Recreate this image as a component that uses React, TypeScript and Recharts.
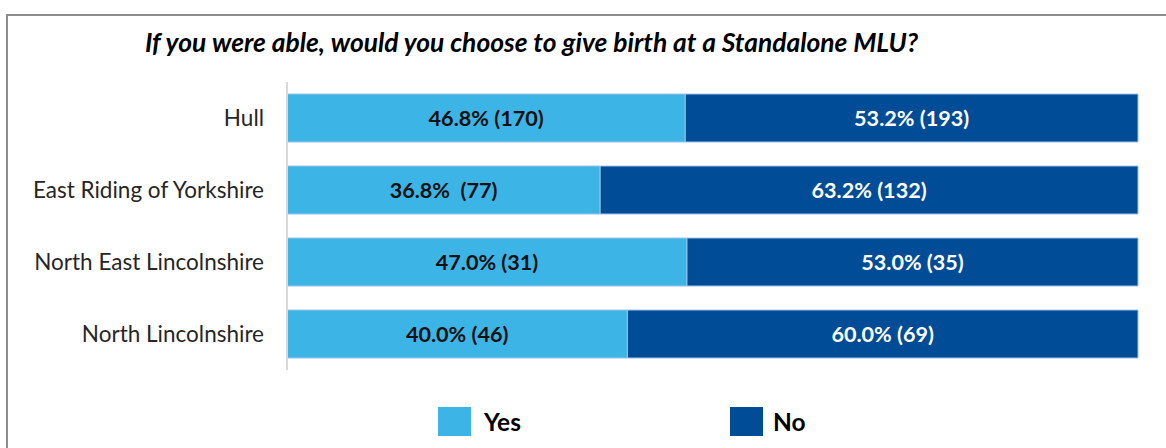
import React from 'react';
import { BarChart, Bar, XAxis, YAxis, LabelList, Legend } from 'recharts';

const categories = ['Hull', 'East Riding of Yorkshire', 'North East Lincolnshire', 'North Lincolnshire'];
const yesPct = [46.8, 36.8, 47.0, 40.0];
const noPct = [53.2, 63.2, 53.0, 60.0];
const yesLabels = ['46.8% (170)', '36.8%  (77)', '47.0% (31)', '40.0% (46)'];
const noLabels = ['53.2% (193)', '63.2% (132)', '53.0% (35)', '60.0% (69)'];
const seriesNames = ['Yes', 'No'];
const seriesColors = ['#3DB4E6', '#004C97'];
const titleText = 'If you were able, would you choose to give birth at a Standalone MLU?';

const data = categories.map((c, i) => ({
  name: c,
  yes: yesPct[i],
  no: noPct[i],
  yesLabel: yesLabels[i],
  noLabel: noLabels[i],
}));

const FONT = 'Lato, "Open Sans", sans-serif';

const makeLabel = (fill: string) => (props: any) => {
  const { x, y, width, height, value } = props;
  return (
    <text
      x={x + width / 2}
      y={y + height / 2}
      dy="0.36em"
      textAnchor="middle"
      fill={fill}
      fontFamily={FONT}
      fontWeight={700}
      fontSize={21.6}
      style={{ whiteSpace: 'pre' }}
    >
      {value}
    </text>
  );
};

const LegendContent = () => (
  <div style={{ position: 'relative', height: 40, fontFamily: FONT }}>
    {seriesNames.map((n, i) => (
      <div key={n} style={{ position: 'absolute', left: i === 0 ? 438 : 730, top: 0, display: 'flex', alignItems: 'center' }}>
        <div style={{ width: 33, height: 29, background: seriesColors[i] }} />
        <span style={{ marginLeft: i === 0 ? 13 : 10, fontSize: 24.5, fontWeight: 700, color: '#000' }}>{n}</span>
      </div>
    ))}
  </div>
);

export default function App() {
  return (
    <div style={{ position: 'absolute', left: 0, top: 0, width: 1166, height: 448, overflow: 'hidden', background: '#fff' }}>
      <div style={{ position: 'absolute', left: 6, top: 14, width: 1170, height: 2, background: '#8c8c8c', zIndex: 2 }} />
      <div style={{ position: 'absolute', left: 6, top: 14, width: 2, height: 440, background: '#8c8c8c', zIndex: 2 }} />
      <div style={{ position: 'absolute', left: 145, top: 26, fontFamily: FONT, fontSize: 26.4, fontWeight: 700, fontStyle: 'italic', color: '#000', whiteSpace: 'nowrap', zIndex: 2 }}>
        {titleText}
      </div>
      <BarChart
        width={1166}
        height={448}
        data={data}
        layout="vertical"
        margin={{ top: 82, right: 28, bottom: 78, left: 0 }}
        barSize={48}
      >
        <XAxis type="number" domain={[0, 100]} hide />
        <YAxis
          type="category"
          dataKey="name"
          width={287}
          axisLine={{ stroke: '#d9d9d9', strokeWidth: 2 }}
          tickLine={false}
          tickSize={0}
          tickMargin={23}
          tick={{ fill: '#262626', fontSize: 22.5, fontFamily: FONT }}
        />
        <Legend layout="horizontal" verticalAlign="middle" align="center" wrapperStyle={{ top: 407, left: 0, width: 1166 }} content={<LegendContent />} />
        <Bar dataKey="yes" stackId="a" name={seriesNames[0]} fill={seriesColors[0]} stroke="#9dc3e6" strokeWidth={1} isAnimationActive={false}>
          <LabelList dataKey="yesLabel" content={makeLabel('#111')} />
        </Bar>
        <Bar dataKey="no" stackId="a" name={seriesNames[1]} fill={seriesColors[1]} stroke="#9dc3e6" strokeWidth={1} isAnimationActive={false}>
          <LabelList dataKey="noLabel" content={makeLabel('#fff')} />
        </Bar>
      </BarChart>
    </div>
  );
}
